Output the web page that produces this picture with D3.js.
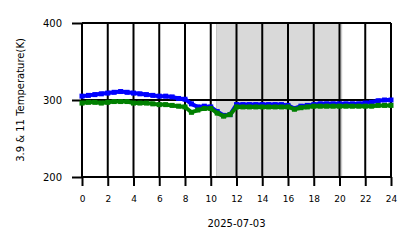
<!DOCTYPE html>
<html>
<head>
<meta charset="utf-8">
<script src="https://cdn.jsdelivr.net/npm/d3@7"></script>
<style>
  body { margin: 0; background: #fff; }
  text { font-family: "DejaVu Sans", sans-serif; fill: #000; }
</style>
</head>
<body>
<div id="vis-container"></div>
<script>
// Data: hours of the day and the two temperature series (K)
var hours = d3.range(0, 24.5, 0.5);
var temp39 = [305, 306, 307, 308, 309, 310, 311, 310, 309, 308,
	307, 306, 305, 305, 304, 302, 301, 295, 291, 292,
	291, 285, 280, 281, 294, 294, 294, 294, 294, 294,
	294, 294, 293, 289, 292, 293, 294, 295, 295, 295,
	295, 295, 295, 295, 296, 297, 299, 300, 300];
var temp11 = [296, 297, 297, 296, 297, 298, 298, 298, 296, 296,
	296, 295, 294, 294, 293, 292, 291, 284, 287, 289,
	289, 283, 279, 281, 291, 291, 291, 291, 291, 291,
	291, 291, 291, 288, 290, 291, 292, 292, 292, 292,
	292, 292, 292, 292, 292, 292, 293, 293, 293];
var xTicks = [0, 2, 4, 6, 8, 10, 12, 14, 16, 18, 20, 22, 24];
var yTicks = [200, 300, 400];
var shade = [10.45, 20.17];
var dateLabel = "2025-07-03";
var yLabel = "3.9 & 11 Temperature(K)";

// Set the dimensions of the chart
var margin = { top: 23, right: 27, bottom: 71, left: 82 };
var width = 418 - margin.left - margin.right;
var height = 248 - margin.top - margin.bottom;

var svg = d3.select("#vis-container")
	.append("svg")
	.attr("width", 418)
	.attr("height", 248)
	.append("g")
	.attr("transform", "translate(" + margin.left + "," + margin.top + ")");

var xScale = d3.scaleLinear().domain([0, 24]).range([0, width]);
var yScale = d3.scaleLinear().domain([200, 400]).range([height, 0]);

// Shaded span
svg.append("rect")
	.attr("x", xScale(shade[0]))
	.attr("y", 0)
	.attr("width", xScale(shade[1]) - xScale(shade[0]))
	.attr("height", height)
	.attr("fill", "#d9d9d9")
	.attr("stroke", "#c4c4c4")
	.attr("stroke-width", 1);

// Grid lines
svg.append("g").selectAll("line")
	.data(xTicks)
	.join("line")
	.attr("x1", function (d) { return xScale(d); })
	.attr("x2", function (d) { return xScale(d); })
	.attr("y1", 0)
	.attr("y2", height)
	.attr("stroke", "#000")
	.attr("stroke-width", 2);
svg.append("g").selectAll("line")
	.data(yTicks)
	.join("line")
	.attr("x1", 0)
	.attr("x2", width)
	.attr("y1", function (d) { return yScale(d); })
	.attr("y2", function (d) { return yScale(d); })
	.attr("stroke", "#000")
	.attr("stroke-width", 2);

// Axes
var xAxis = svg.append("g")
	.attr("transform", "translate(0," + height + ")")
	.call(d3.axisBottom(xScale).tickValues(xTicks).tickSize(9).tickPadding(10));
var yAxis = svg.append("g")
	.call(d3.axisLeft(yScale).tickValues(yTicks).tickSize(10).tickPadding(10));
[xAxis, yAxis].forEach(function (ax) {
	ax.select(".domain").remove();
	ax.selectAll(".tick line").attr("stroke", "#000").attr("stroke-width", 2);
});
xAxis.selectAll("text").style("font-size", "9px");
yAxis.selectAll("text").style("font-size", "10px");

// Series
var line = d3.line()
	.x(function (d, i) { return xScale(hours[i]); })
	.y(function (d) { return yScale(d); });

function drawSeries(values, color) {
	svg.append("path")
		.datum(values)
		.attr("fill", "none")
		.attr("stroke", color)
		.attr("stroke-width", 4)
		.attr("stroke-linejoin", "round")
		.attr("d", line);
	svg.append("g").selectAll("rect")
		.data(values)
		.join("rect")
		.attr("x", function (d, i) { return xScale(hours[i]) - 2.5; })
		.attr("y", function (d) { return yScale(d) - 2.5; })
		.attr("width", 5)
		.attr("height", 5)
		.attr("fill", color);
}
drawSeries(temp39, "#0000ff");
drawSeries(temp11, "#008000");

// Labels
svg.append("text")
	.attr("x", width / 2)
	.attr("y", height + 50)
	.style("text-anchor", "middle")
	.style("font-size", "10px")
	.text(dateLabel);

svg.append("text")
	.attr("transform", "rotate(-90)")
	.attr("x", -height / 2)
	.attr("y", -58)
	.style("text-anchor", "middle")
	.style("font-size", "10px")
	.text(yLabel);
</script>
</body>
</html>
